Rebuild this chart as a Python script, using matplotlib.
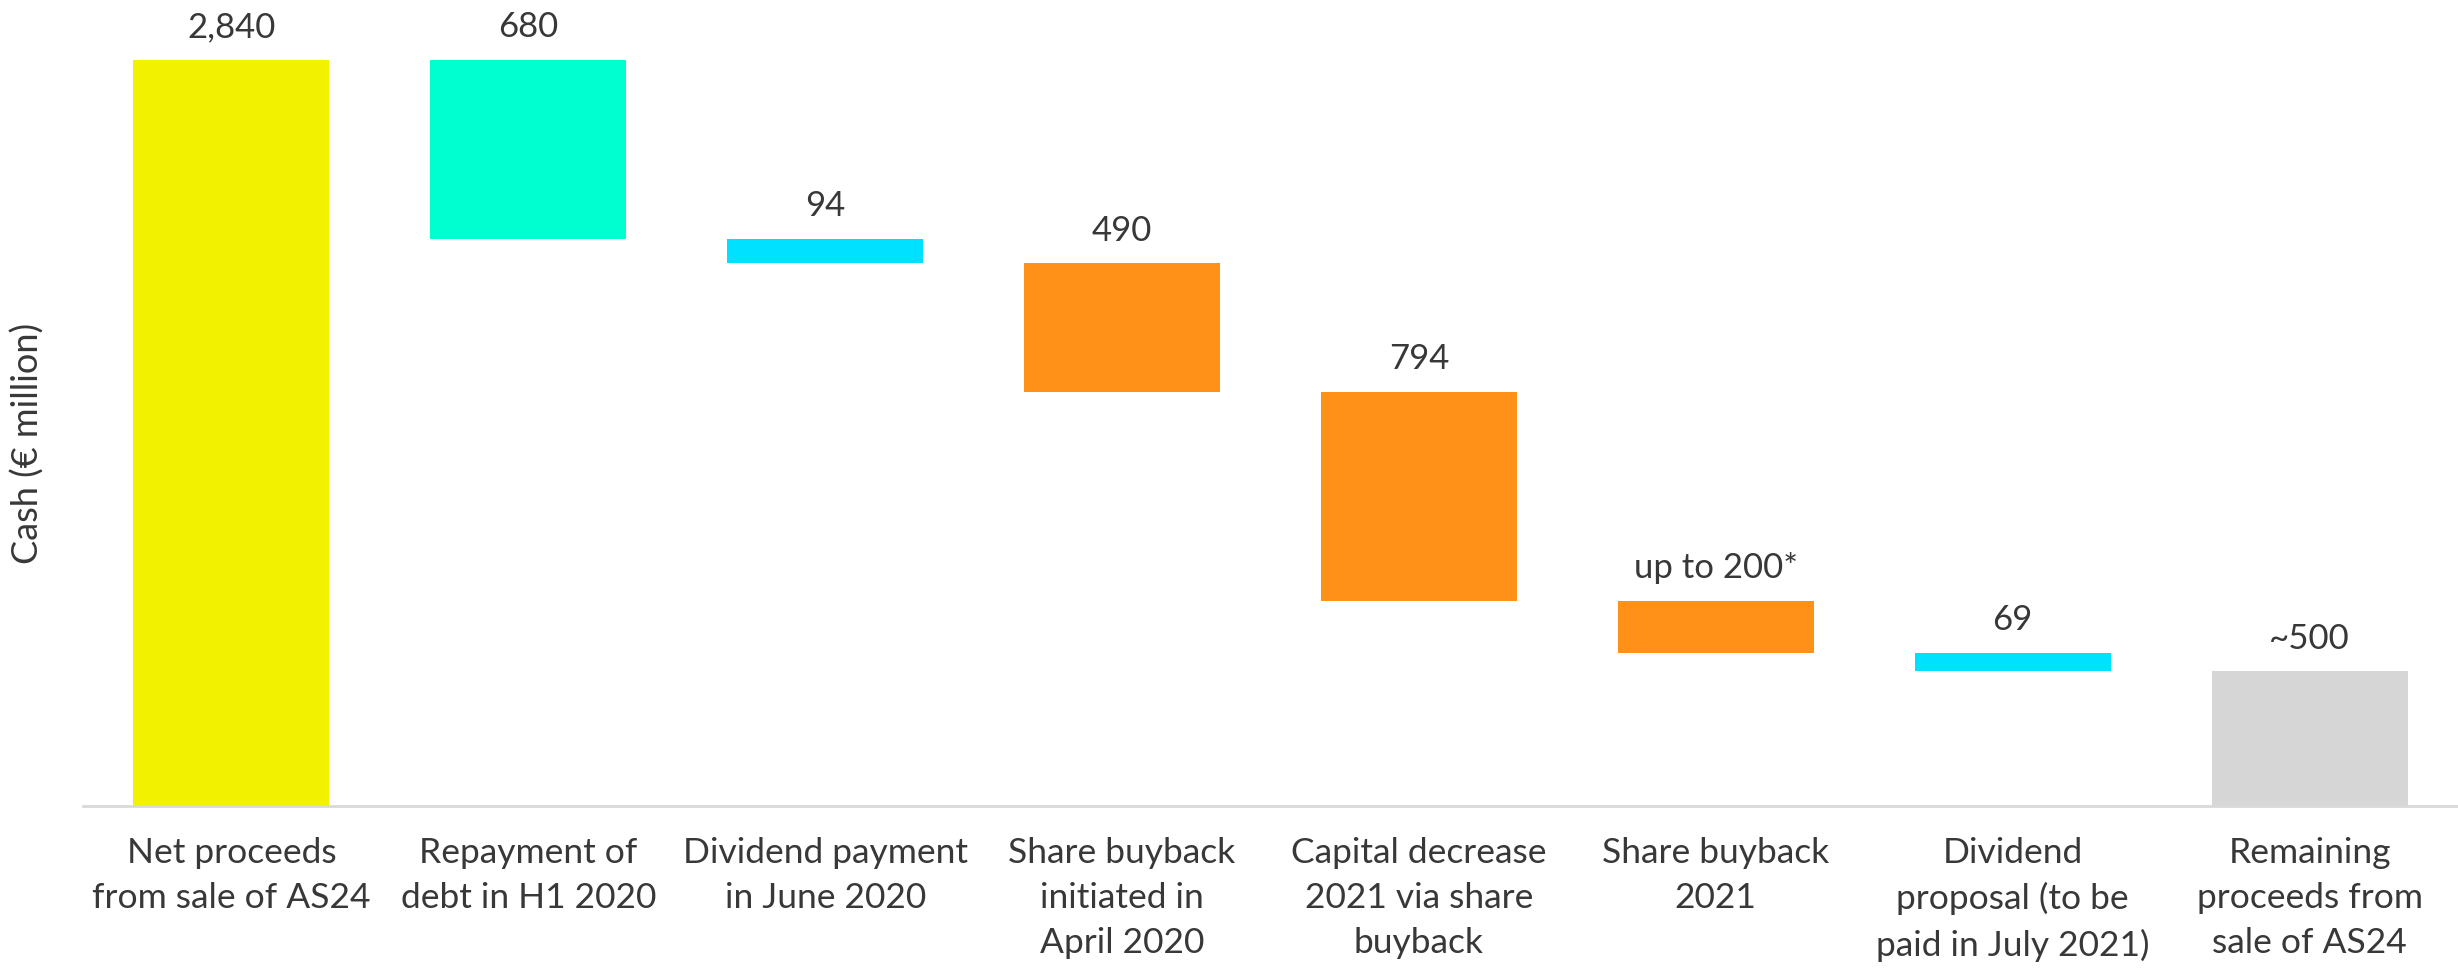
import matplotlib
matplotlib.use("Agg")
from matplotlib import pyplot as plt
import numpy as np

categories = [
    "Net proceeds\nfrom sale of AS24",
    "Repayment of\ndebt in H1 2020",
    "Dividend payment\nin June 2020",
    "Share buyback\ninitiated in\nApril 2020",
    "Capital decrease\n2021 via share\nbuyback",
    "Share buyback\n2021",
    "Dividend\nproposal (to be\npaid in July 2021)",
    "Remaining\nproceeds from\nsale of AS24",
]
start = 2840
changes = [-680, -94, -490, -794, -200, -69]
value_labels = ["2,840", "680", "94", "490", "794", "up to 200*", "69", "~500"]
colors = ["#F2F200", "#00FFD0", "#00E1FF", "#FF9018", "#FF9018", "#FF9018", "#00E1FF", "#D6D6D6"]

# waterfall: running totals
bottoms = [0]
heights = [start]
total = start
for c in changes:
    total += c
    bottoms.append(total)
    heights.append(-c)
bottoms.append(0)
heights.append(total)

plt.rcParams['font.family'] = ['Lato', 'DejaVu Sans']
text_color = "#383838"

fig = plt.figure(figsize=(24.58, 9.71), dpi=100)
W, H = 2458, 971
ax = fig.add_axes([83 / W, (H - 806) / H, 1 - 83 / W, 806 / H])

x = np.arange(len(categories))
ax.bar(x, heights, bottom=bottoms, width=0.66, color=colors)

for i in range(len(x)):
    top = bottoms[i] + heights[i]
    ax.annotate(value_labels[i], (x[i], top), xytext=(0, 12), textcoords="offset points",
                ha="center", va="bottom", fontsize=25, color=text_color)

ax.set_xlim(-0.5, 7.5)
ax.set_ylim(0, 806 / (746 / 2840))
for s in ["top", "right", "left"]:
    ax.spines[s].set_visible(False)
ax.spines["bottom"].set_color("#D9D9D9")
ax.spines["bottom"].set_linewidth(2)
ax.set_yticks([])
ax.set_xticks(x)
ax.set_xticklabels(categories, fontsize=25.5, color=text_color, linespacing=1.5)
ax.tick_params(axis="x", length=0, pad=22)

fig.text(28 / W, 1 - 443 / H, "Cash (€ million)", rotation=90, ha="center", va="center",
         fontsize=26, color=text_color)

fig.savefig("out.png", dpi=100)
